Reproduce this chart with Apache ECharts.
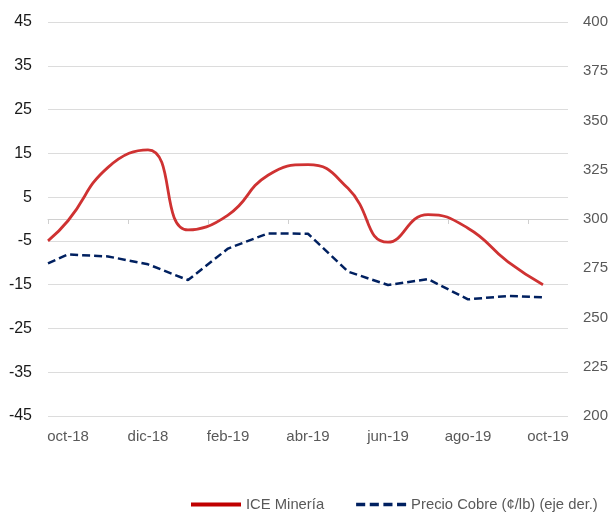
<!DOCTYPE html>
<html>
<head>
<meta charset="utf-8">
<script src="https://cdn.jsdelivr.net/npm/echarts@6/dist/echarts.min.js"></script>
<style>
  html, body { margin: 0; padding: 0; background: #fff; }
  #chart { width: 615px; height: 514px; }
</style>
</head>
<body>
<div id="chart"></div>
<script>
// meses del eje (etiquetas cada dos meses)
const meses = ["oct-18", "nov-18", "dic-18", "ene-19", "feb-19", "mar-19", "abr-19",
  "may-19", "jun-19", "jul-19", "ago-19", "sep-19", "oct-19"];
// posición de cada dato en meses (0 = oct-18)
const posDatos = [-0.5, 0, 1, 2, 3, 4, 5, 6, 7, 8, 9, 10, 11, 11.875];
const iceMineria = [-5, -0.4, 11.8, 15.8, -2.5, 0.9, 10.0, 12.4, 7.0, -5.3, 1.0, -2.1, -9.8, -15];
const precioCobre = [277.5, 282, 281, 277, 269, 285, 292.7, 292.5, 273.3, 266.5, 269.5, 259.2, 260.9, 260.3];

const pares = (ys) => ys.map((v, i) => [posDatos[i], v]);
// marcas del eje: en el borde izquierdo de cada mes rotulado
const marcas = meses.map((m, i) => i - 0.5).filter((v, i) => i % 2 === 0);

const chart = echarts.init(document.getElementById("chart"));
const font = "Liberation Sans, Arial, sans-serif";

const option = {
  animation: false,
  textStyle: { fontFamily: font },
  grid: { left: 48, right: 47, top: 22, bottom: 98 },
  legend: {
    left: 186,
    top: 492,
    itemWidth: 50,
    itemHeight: 14,
    itemGap: 32,
    textStyle: { fontSize: 14.8, color: "#595959", fontFamily: font },
    data: [
      { name: "ICE Minería", icon: "path://M0,0h50v4h-50z" },
      {
        name: "Precio Cobre (¢/lb) (eje der.)",
        icon: "path://M0,0h8v3h-8z M12,0h8v3h-8z M24,0h8v3h-8z M36,0h8v3h-8z",
      },
    ],
  },
  xAxis: [
    {
      type: "category",
      data: meses,
      position: "bottom",
      boundaryGap: true,
      axisLine: { show: false, onZero: false },
      axisTick: { show: false },
      axisLabel: { interval: 1, color: "#595959", fontSize: 15, margin: 13 },
    },
    {
      type: "value",
      min: -0.5,
      max: 12.5,
      position: "bottom",
      axisLine: { onZero: true, onZeroAxisIndex: 0, lineStyle: { color: "#d0d0d0", width: 1 } },
      axisTick: { show: true, length: 5, customValues: marcas, lineStyle: { color: "#d0d0d0" } },
      axisLabel: { show: false },
      splitLine: { show: false },
    },
  ],
  yAxis: [
    {
      type: "value",
      min: -45,
      max: 45,
      interval: 10,
      axisLine: { show: false },
      axisTick: { show: false },
      axisLabel: { color: "#1a1a1a", fontSize: 16, margin: 16 },
      splitLine: { lineStyle: { color: "#dcdcdc", width: 1 } },
    },
    {
      type: "value",
      min: 200,
      max: 400,
      interval: 25,
      position: "right",
      axisLine: { show: false },
      axisTick: { show: false },
      axisLabel: { color: "#595959", fontSize: 15, margin: 15 },
      splitLine: { show: false },
    },
  ],
  series: [
    {
      name: "ICE Minería",
      type: "line",
      xAxisIndex: 1,
      yAxisIndex: 0,
      data: pares(iceMineria),
      smooth: 0.5,
      symbol: "none",
      lineStyle: { color: "#cf3232", width: 2.8 },
      itemStyle: { color: "#c00000" },
    },
    {
      name: "Precio Cobre (¢/lb) (eje der.)",
      type: "line",
      xAxisIndex: 1,
      yAxisIndex: 1,
      data: pares(precioCobre),
      symbol: "none",
      lineStyle: { color: "#002060", width: 2.5, type: [8, 4] },
      itemStyle: { color: "#002060" },
    },
  ],
};

chart.setOption(option);
</script>
</body>
</html>
